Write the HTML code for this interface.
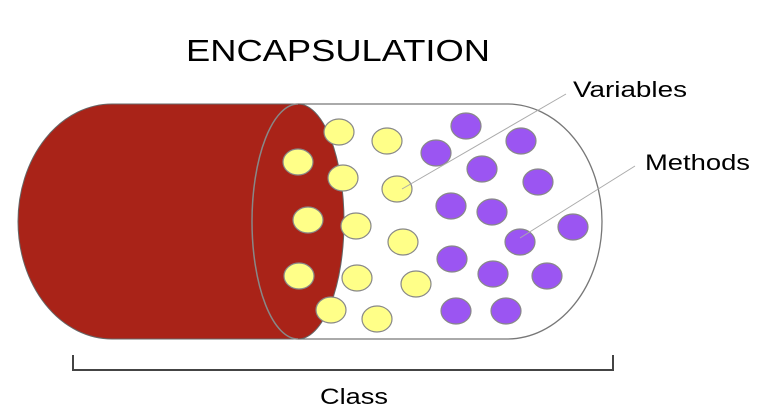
<!DOCTYPE html>
<html><head><style>html,body{margin:0;padding:0;background:#fff;width:760px;height:420px;overflow:hidden}</style></head><body>
<svg width="760" height="420" xmlns="http://www.w3.org/2000/svg" font-family="Liberation Sans, sans-serif">
<text x="186" y="61" font-size="31" textLength="304" lengthAdjust="spacingAndGlyphs" fill="#000">ENCAPSULATION</text>
<path d="M298 104 L507 104 A95 117.5 0 0 1 507 339 L298 339" fill="#fff" stroke="#777" stroke-width="1.3"/>
<path d="M298 104 L112 104 A94 117.5 0 0 0 112 339 L298 339 A46 117.5 0 0 0 298 104 Z" fill="#a92318" stroke="#666" stroke-width="1"/>
<path d="M298 104 A46 117.5 0 0 0 298 339" fill="none" stroke="#888" stroke-width="1.5"/>
<g stroke="#888" stroke-width="1.2" fill="#ffff88">
<ellipse cx="339" cy="132" rx="15" ry="13"/><ellipse cx="298" cy="162" rx="15" ry="13"/><ellipse cx="343" cy="178" rx="15" ry="13"/><ellipse cx="308" cy="220" rx="15" ry="13"/><ellipse cx="356" cy="226" rx="15" ry="13"/><ellipse cx="299" cy="276" rx="15" ry="13"/><ellipse cx="357" cy="278" rx="15" ry="13"/><ellipse cx="331" cy="310" rx="15" ry="13"/><ellipse cx="377" cy="319" rx="15" ry="13"/><ellipse cx="387" cy="141" rx="15" ry="13"/><ellipse cx="397" cy="189" rx="15" ry="13"/><ellipse cx="403" cy="242" rx="15" ry="13"/><ellipse cx="416" cy="284" rx="15" ry="13"/>
</g>
<g stroke="#888" stroke-width="1.2" fill="#9b55f2">
<ellipse cx="466" cy="126" rx="15" ry="13"/><ellipse cx="436" cy="153" rx="15" ry="13"/><ellipse cx="521" cy="141" rx="15" ry="13"/><ellipse cx="482" cy="169" rx="15" ry="13"/><ellipse cx="538" cy="182" rx="15" ry="13"/><ellipse cx="451" cy="206" rx="15" ry="13"/><ellipse cx="492" cy="212" rx="15" ry="13"/><ellipse cx="520" cy="242" rx="15" ry="13"/><ellipse cx="573" cy="227" rx="15" ry="13"/><ellipse cx="452" cy="259" rx="15" ry="13"/><ellipse cx="493" cy="274" rx="15" ry="13"/><ellipse cx="547" cy="276" rx="15" ry="13"/><ellipse cx="456" cy="311" rx="15" ry="13"/><ellipse cx="506" cy="311" rx="15" ry="13"/>
</g>
<line x1="402" y1="189" x2="566" y2="94" stroke="#aaa" stroke-width="1"/>
<line x1="520" y1="238" x2="635" y2="166" stroke="#aaa" stroke-width="1"/>
<text x="573" y="97" font-size="22" textLength="114" lengthAdjust="spacingAndGlyphs" fill="#000">Variables</text>
<text x="645" y="170" font-size="22" textLength="105" lengthAdjust="spacingAndGlyphs" fill="#000">Methods</text>
<path d="M73 355 L73 370 L613 370 L613 355" fill="none" stroke="#444" stroke-width="2"/>
<text x="320" y="404" font-size="22" textLength="68" lengthAdjust="spacingAndGlyphs" fill="#000">Class</text>
</svg>
</body></html>
